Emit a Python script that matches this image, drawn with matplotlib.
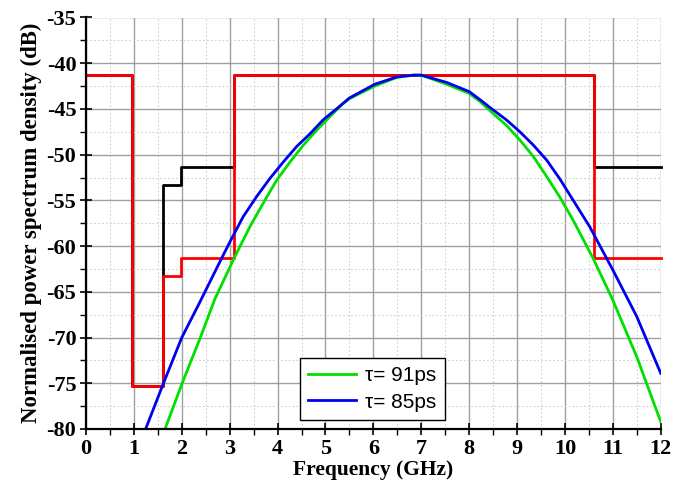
import matplotlib
matplotlib.use("Agg")
import matplotlib.pyplot as plt
from matplotlib.ticker import MultipleLocator

plt.rcParams["axes.unicode_minus"] = False

# FCC UWB emission masks (step edges in GHz, levels in dB)
mask_edges = [0, 0.96, 1.61, 1.99, 3.1, 10.6, 12]
indoor_mask = [-41.3, -75.3, -53.3, -51.3, -41.3, -51.3]
outdoor_mask = [-41.3, -75.3, -63.3, -61.3, -41.3, -61.3]

# Pulse spectrum, tau = 91 ps
f_91 = [1.65, 2.0, 2.38, 2.69, 3.09, 3.42, 3.70, 3.98, 4.26, 4.54, 4.82, 5.09,
        5.37, 5.51, 6.03, 6.49, 6.85, 7.0, 7.53, 8.0, 8.23, 8.50, 8.78, 9.06,
        9.34, 9.62, 9.90, 10.17, 10.59, 11.0, 11.5, 12.0]
psd_91 = [-80, -75.1, -70.1, -65.8, -61.35, -57.9, -55.3, -52.8, -50.8, -48.95,
          -47.3, -45.85, -44.4, -43.85, -42.5, -41.55, -41.3, -41.3, -42.3,
          -43.3, -44.2, -45.5, -46.8, -48.4, -50.2, -52.4, -54.7, -57.15,
          -61.35, -65.9, -72.1, -79.2]

# Pulse spectrum, tau = 85 ps
f_85 = [1.245, 1.61, 2.0, 2.38, 2.83, 3.006, 3.28, 3.56, 3.84, 4.12, 4.40, 4.68,
        4.95, 5.23, 5.5, 6.03, 6.49, 6.85, 7.0, 7.53, 8.0, 8.23, 8.50, 8.78,
        9.06, 9.34, 9.62, 9.90, 10.17, 10.52, 11.0, 11.5, 12.0]
psd_85 = [-80, -75.1, -70, -66.1, -61.35, -59.53, -56.8, -54.6, -52.6, -50.8,
          -49.1, -47.7, -46.2, -45.0, -43.8, -42.3, -41.5, -41.3, -41.3, -42.1,
          -43.1, -44.0, -45.1, -46.2, -47.5, -48.95, -50.6, -52.7, -54.97,
          -57.9, -62.6, -67.7, -73.9]

xticks = list(range(0, 13))
yticks = list(range(-80, -34, 5))

fig = plt.figure(figsize=(6.73, 4.90), dpi=100)
ax = fig.add_axes([86 / 673, 61 / 490, (660.7 - 86) / 673, (429 - 17.5) / 490])

ax.set_xlim(0, 12)
ax.set_ylim(-80, -35)

# grid
ax.xaxis.set_minor_locator(MultipleLocator(0.5))
ax.yaxis.set_minor_locator(MultipleLocator(2.5))
ax.grid(which="major", color="#a0a0a0", linewidth=1.0, linestyle="-")
ax.grid(which="minor", color="#d0d0d0", linewidth=0.8, linestyle=(0, (1.5, 2)))
ax.set_axisbelow(True)

# masks: indoor first, outdoor on top
mask_black = indoor_mask + [indoor_mask[-1]]
mask_red = outdoor_mask + [outdoor_mask[-1]]
ax.step(mask_edges, mask_black, where="post", color="black", linewidth=2.0,
        clip_on=False, zorder=3)
ax.step(mask_edges, mask_red, where="post", color="#ff0000", linewidth=2.0,
        clip_on=False, zorder=4)

l91, = ax.plot(f_91, psd_91, color="#00e000", linewidth=2.0, zorder=5,
               label="\u03c4= 91ps")
l85, = ax.plot(f_85, psd_85, color="#0000ee", linewidth=2.0, zorder=6,
               label="\u03c4= 85ps")

# spines
for side in ("top", "right"):
    ax.spines[side].set_visible(False)
for side in ("left", "bottom"):
    ax.spines[side].set_linewidth(1.6)
    ax.spines[side].set_color("black")
    ax.spines[side].set_zorder(7)

ax.set_xticks(xticks)
ax.set_yticks(yticks)
ax.tick_params(which="major", direction="inout", length=8, width=1.2, pad=3)
ax.tick_params(which="minor", direction="out", length=4, width=1.0)
ax.tick_params(top=False, right=False)

for lbl in ax.get_xticklabels() + ax.get_yticklabels():
    lbl.set_fontfamily("Liberation Serif")
    lbl.set_fontweight("bold")
    lbl.set_fontsize(16)

ax.set_xlabel("Frequency (GHz)", fontfamily="Liberation Serif",
              fontweight="bold", fontsize=15.5, labelpad=1)
ax.set_ylabel("Normalised power spectrum density (dB)",
              fontfamily="Liberation Serif", fontweight="bold", fontsize=16.5,
              labelpad=3)

leg = ax.legend(handles=[l91, l85], loc="lower left",
                bbox_to_anchor=(0.372, 0.022), borderaxespad=0,
                frameon=True, fancybox=False,
                edgecolor="black", framealpha=1.0, borderpad=0.4,
                handlelength=2.3, handletextpad=0.45, labelspacing=0.35,
                prop=dict(family="Liberation Sans", size=15))
leg.get_frame().set_linewidth(1.0)
leg.set_zorder(8)

fig.savefig("out.png", dpi=100)
